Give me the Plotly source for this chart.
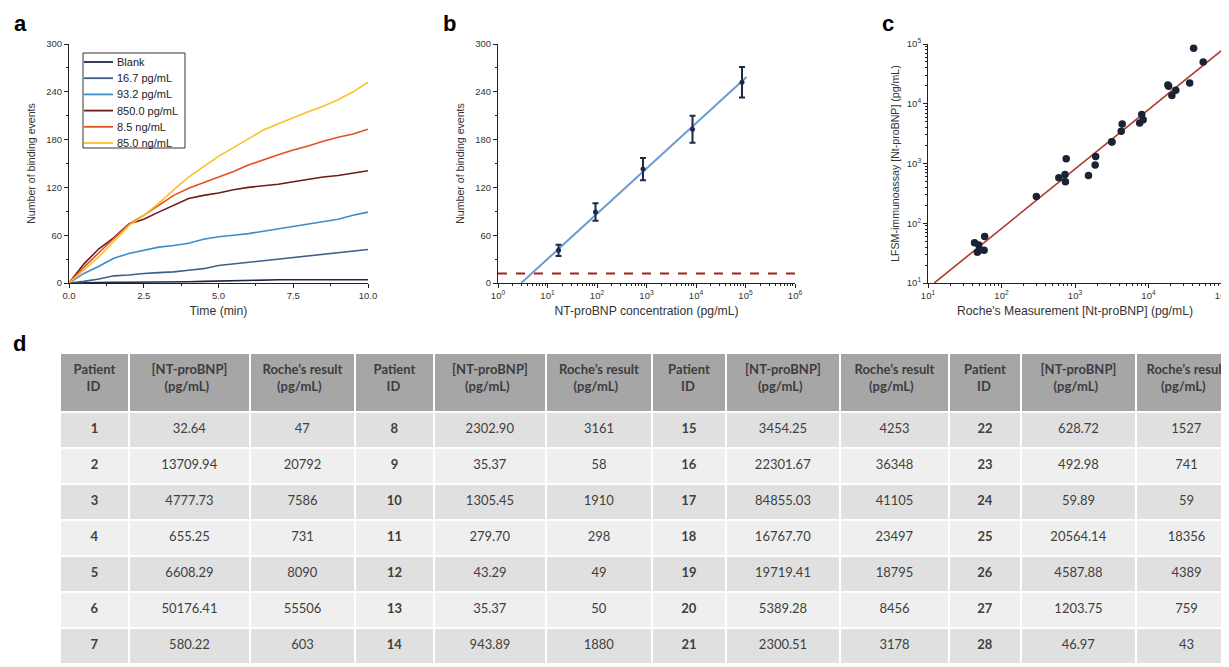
import plotly.graph_objects as go
import numpy as np

# ---------------- data ----------------
time_min = [0, 0.5, 1.0, 1.5, 2.0, 2.5, 3.0, 3.5, 4.0, 4.5, 5.0, 5.5, 6.0, 6.5, 7.0, 7.5, 8.0, 8.5, 9.0, 9.5, 10.0]
series_names = ["Blank", "16.7 pg/mL", "93.2 pg/mL", "850.0 pg/mL", "8.5 ng/mL", "85.0 ng/mL"]
blank = [0, 0.5, 1, 1, 1, 1, 1, 1, 1.5, 2, 2.5, 3, 3, 3.5, 4, 4, 4, 4, 4, 4, 4]
c16_7 = [0, 2, 5, 9, 10, 12, 13, 14, 16, 18, 22, 24, 26, 28, 30, 32, 34, 36, 38, 40, 42]
c93_2 = [0, 12, 21, 31, 37, 41, 45, 47, 50, 55, 58, 60, 62, 65, 68, 71, 74, 77, 80, 85, 89]
c850 = [0, 24, 43, 57, 74, 80, 89, 97, 106, 110, 113, 117, 120, 122, 124, 127, 130, 133, 135, 138, 141]
c8_5ng = [0, 20, 38, 56, 74, 85, 98, 110, 119, 126, 132, 140, 148, 155, 161, 167, 172, 178, 183, 187, 193]
c85ng = [0, 17, 33, 52, 72, 85, 100, 117, 133, 146, 159, 170, 181, 192, 200, 208, 215, 222, 230, 240, 252]
series_colors = ["#1c2a48", "#3d5f8a", "#3c8dc4", "#6b1d1d", "#e0521f", "#fbbf2a"]

# panel b: calibration
conc = [16.7, 93.2, 850.0, 8500.0, 85000.0]
events_mean = [41, 89, 143, 193, 252]
events_err = [7, 11, 14, 17, 19]
fit_b_x = [2.95, 1.05e5]
fit_b_slope = 56.8
fit_b_intercept = -26.7
blank_threshold = 12

# panel c / table d
patient_id = list(range(1, 29))
nt_probnp = [32.64, 13709.94, 4777.73, 655.25, 6608.29, 50176.41, 580.22,
             2302.90, 35.37, 1305.45, 279.70, 43.29, 35.37, 943.89,
             3454.25, 22301.67, 84855.03, 16767.70, 19719.41, 5389.28, 2300.51,
             628.72, 492.98, 59.89, 20564.14, 4587.88, 1203.75, 46.97]
roche = [47, 20792, 7586, 731, 8090, 55506, 603,
         3161, 58, 1910, 298, 49, 50, 1880,
         4253, 36348, 41105, 23497, 18795, 8456, 3178,
         1527, 741, 59, 18356, 4389, 759, 43]
fit_c_x = [12.2, 9.8e4]
fit_c_slope = 0.996
fit_c_intercept = -0.081

# ---------------- layout helpers ----------------
W, H = 1229, 667
OFF = 8  # page body margin: figure is drawn 8px in from the window corner
def px_x(p):
    return (p - OFF) / W
def px_y(p):
    return 1 - (p - OFF) / H

TICKFONT = dict(family="Liberation Sans, Arial", size=9.5, color="#333333")
XTITLEFONT = dict(family="Liberation Sans, Arial", size=12.2, color="#333333")
YTITLEFONT = dict(family="Liberation Sans, Arial", size=10.6, color="#333333")

def base_axis(**kw):
    d = dict(showline=True, linecolor="#222222", linewidth=1, ticks="outside",
             ticklen=4, tickwidth=1, tickcolor="#222222", tickfont=TICKFONT,
             showgrid=False, zeroline=False, mirror=False, automargin=False)
    d.update(kw)
    return d

def log_minor(lo, hi):
    return [k * 10 ** d for d in range(lo, hi) for k in range(2, 10)]

def pow_labels(lo, hi):
    return [10 ** d for d in range(lo, hi + 1)], ["10<sup>%d</sup>" % d for d in range(lo, hi + 1)]

fig = go.Figure()

# ---------------- panel a ----------------
for name, ys, col in zip(series_names, [blank, c16_7, c93_2, c850, c8_5ng, c85ng], series_colors):
    fig.add_trace(go.Scatter(x=time_min, y=ys, mode="lines", name=name, showlegend=False,
                             line=dict(color=col, width=1.6), xaxis="x", yaxis="y"))

# legend box for panel a (compact, drawn in paper space)
fig.add_shape(type="rect", xref="paper", yref="paper", x0=px_x(83), x1=px_x(185),
              y0=px_y(148), y1=px_y(53), line=dict(color="#333333", width=1), fillcolor="white")
for i, (name, col) in enumerate(zip(series_names, series_colors)):
    yy = 62 + i * 16.2
    fig.add_shape(type="line", xref="paper", yref="paper", x0=px_x(84), x1=px_x(113),
                  y0=px_y(yy), y1=px_y(yy), line=dict(color=col, width=1.8))
    fig.add_annotation(text=name, x=px_x(115), y=px_y(yy), xref="paper", yref="paper",
                       xanchor="left", yanchor="middle", showarrow=False,
                       font=dict(family="Liberation Sans, Arial", size=11, color="#222222"))

# ---------------- panel b ----------------
fx = np.array(fit_b_x)
fig.add_trace(go.Scatter(x=fx, y=fit_b_slope * np.log10(fx) + fit_b_intercept, mode="lines",
                         line=dict(color="#6a9bd1", width=2), showlegend=False,
                         xaxis="x2", yaxis="y2"))
fig.add_trace(go.Scatter(x=[1, 1e6], y=[blank_threshold, blank_threshold], mode="lines",
                         line=dict(color="#a3201f", width=2, dash="dash"), showlegend=False,
                         xaxis="x2", yaxis="y2"))
fig.add_trace(go.Scatter(x=conc, y=events_mean, mode="markers",
                         marker=dict(color="#1c2a48", size=5),
                         error_y=dict(type="data", array=events_err, color="#1c2a48",
                                      thickness=2, width=3),
                         showlegend=False, xaxis="x2", yaxis="y2"))

# ---------------- panel c ----------------
cx = np.array(fit_c_x)
fig.add_trace(go.Scatter(x=cx, y=10 ** (fit_c_slope * np.log10(cx) + fit_c_intercept), mode="lines",
                         line=dict(color="#b03a2e", width=1.6), showlegend=False,
                         xaxis="x3", yaxis="y3"))
fig.add_trace(go.Scatter(x=roche, y=nt_probnp, mode="markers",
                         marker=dict(color="#1a2333", size=7.5),
                         showlegend=False, xaxis="x3", yaxis="y3"))

# ---------------- table d ----------------
EN = "\u2002"
hdr = ["Patient<br>" + EN * 2 + "ID",
       "[NT-proBNP]<br>" + EN * 2 + "(pg/mL)",
       "Roche’s result<br>" + EN * 2 + "\u2009(pg/mL)"] * 4
cols = []
weights = []
for g in range(4):
    cols.append(["<span>%d</span>" % i for i in patient_id[g * 7:(g + 1) * 7]])
    cols.append(["<span>%.2f</span>" % v for v in nt_probnp[g * 7:(g + 1) * 7]])
    cols.append(["<span>%d</span>" % v for v in roche[g * 7:(g + 1) * 7]])
    weights += [700, 400, 400]
row_fill = ["#e0e0e0", "#efefef", "#e0e0e0", "#efefef", "#e0e0e0", "#efefef", "#e0e0e0"]
col_widths = [69, 121, 105, 79, 112, 106, 74, 114, 109, 72, 115, 101]

fig.add_trace(go.Table(
    domain=dict(x=[px_x(60), 1.0], y=[0.0, px_y(353)]),
    columnwidth=col_widths,
    header=dict(values=hdr, fill_color="#a6a6a6", line=dict(color="white", width=2),
                align="center", height=59,
                font=dict(family="Lato, Open Sans", size=13, color="#3d3d3d", weight=700)),
    cells=dict(values=cols, fill_color=[row_fill] * 12, line=dict(color="white", width=2),
               align="center", height=36,
               font=dict(family="Lato, Open Sans", size=13, color="#404040", weight=weights)),
))

ya_dom = [px_y(283), px_y(44)]
fig.update_layout(
    width=W, height=H, margin=dict(l=0, r=0, t=0, b=0, autoexpand=False),
    paper_bgcolor="white", plot_bgcolor="white",
    showlegend=False,
    xaxis=base_axis(domain=[px_x(69), px_x(368)], range=[0, 10], dtick=2.5, tickformat=".1f",
                    minor=dict(dtick=1.25, ticks="outside", ticklen=2, tickcolor="#222222"),
                    title=dict(text="Time (min)", font=XTITLEFONT, standoff=6), anchor="y"),
    yaxis=base_axis(domain=ya_dom, range=[0, 300], dtick=60,
                    minor=dict(dtick=30, ticks="outside", ticklen=2, tickcolor="#222222"),
                    title=dict(text="Number of binding events", font=YTITLEFONT, standoff=8), anchor="x"),
    xaxis2=base_axis(domain=[px_x(498), px_x(795)], type="log", range=[0, 6],
                     tickmode="array", tickvals=pow_labels(0, 6)[0], ticktext=pow_labels(0, 6)[1],
                     minor=dict(tickmode="array", tickvals=log_minor(0, 6), ticks="outside",
                                ticklen=2, tickcolor="#222222"),
                     title=dict(text="NT-proBNP concentration (pg/mL)", font=XTITLEFONT, standoff=6),
                     anchor="y2"),
    yaxis2=base_axis(domain=ya_dom, range=[0, 300], dtick=60,
                     minor=dict(dtick=30, ticks="outside", ticklen=2, tickcolor="#222222"),
                     title=dict(text="Number of binding events", font=YTITLEFONT, standoff=8),
                     anchor="x2"),
    xaxis3=base_axis(domain=[px_x(928), px_x(1222)], type="log", range=[1, 5],
                     tickmode="array", tickvals=pow_labels(1, 5)[0], ticktext=pow_labels(1, 5)[1],
                     minor=dict(tickmode="array", tickvals=log_minor(1, 5), ticks="outside",
                                ticklen=2, tickcolor="#222222"),
                     title=dict(text="Roche's Measurement [Nt-proBNP] (pg/mL)", font=XTITLEFONT, standoff=6),
                     anchor="y3"),
    yaxis3=base_axis(domain=ya_dom, type="log", range=[1, 5],
                     tickmode="array", tickvals=pow_labels(1, 5)[0], ticktext=pow_labels(1, 5)[1],
                     minor=dict(tickmode="array", tickvals=log_minor(1, 5), ticks="outside",
                                ticklen=2, tickcolor="#222222"),
                     title=dict(text="LFSM-immunoassay [Nt-proBNP] (pg/mL)", font=YTITLEFONT, standoff=5),
                     anchor="x3"),
)

letter_font = dict(family="Liberation Sans, Arial", size=22, color="black")
for txt, x, y in [("a", 12, 24), ("b", 441, 24), ("c", 880, 24), ("d", 11, 343)]:
    fig.add_annotation(text="<b>%s</b>" % txt, x=px_x(x), y=px_y(y), xref="paper", yref="paper",
                       xanchor="left", yanchor="middle", showarrow=False, font=letter_font)

fig.write_html("out.html")
